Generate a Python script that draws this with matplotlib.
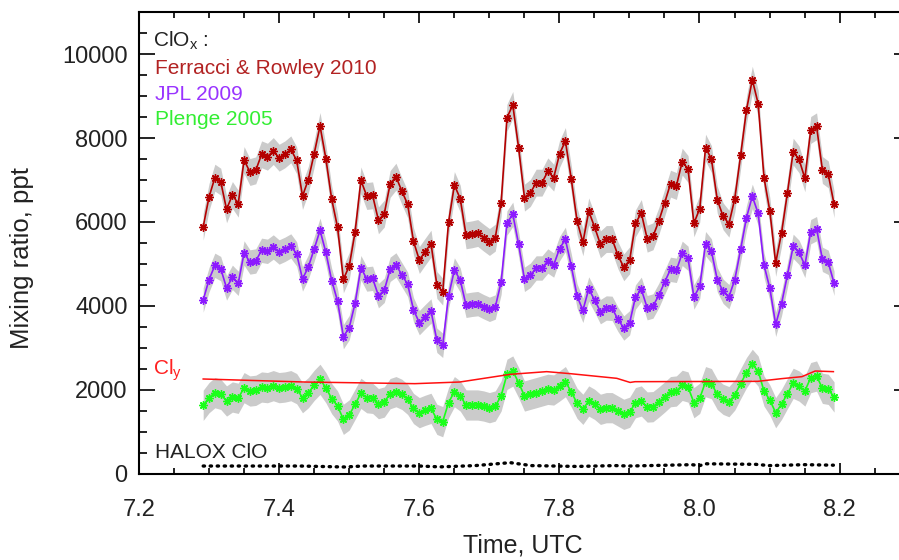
import numpy as np
import matplotlib
matplotlib.use("Agg")
import matplotlib.pyplot as plt
from matplotlib.ticker import MultipleLocator

plt.rcParams['font.family'] = ['Liberation Sans', 'DejaVu Sans']

# time base: one point every 30 s starting at 7.292 UTC
t0 = 7.292
dt = 1.0 / 120.0

ferracci = [5889, 6595, 7056, 6960, 6302, 6643, 6437, 7476, 7190, 7230,
            7611, 7555, 7690, 7531, 7611, 7730, 7468, 6619, 7008, 7627,
            8286, 7508, 6540, 5873, 4635, 4952, 5762, 6992, 6619, 6635,
            6040, 6199, 6905, 7079, 6738, 6421, 5540, 5095, 5294, 5484,
            4500, 4342, 5992, 6881, 6556, 5683, 5706, 5738, 5627, 5524,
            5627, 6453, 8484, 8786, 7762, 6580, 6690, 6937, 6937, 7206,
            7056, 7619, 7929, 7032, 6024, 5516, 6254, 5881, 5468, 5595,
            5595, 5206, 4921, 5087, 5968, 6214, 5603, 5659, 6024, 6461,
            6913, 6857, 7437, 7262, 5968, 6318, 7770, 7500, 6532, 6135,
            5960, 6556, 7587, 8667, 9389, 8818, 7056, 6262, 5024, 5738,
            6683, 7675, 7492, 7040, 8191, 8278, 7238, 7135, 6421]

jpl = [4143, 4627, 4969, 4890, 4429, 4683, 4540, 5262, 5048, 5072,
       5326, 5302, 5405, 5286, 5350, 5429, 5239, 4643, 4929, 5357,
       5802, 5278, 4604, 4119, 3270, 3485, 4064, 4912, 4643, 4659,
       4246, 4373, 4873, 4977, 4747, 4516, 3910, 3603, 3746, 3881,
       3183, 3064, 4238, 4857, 4619, 4016, 4040, 4056, 3984, 3921,
       3976, 4564, 5976, 6183, 5468, 4635, 4730, 4905, 4905, 5071,
       4976, 5365, 5587, 4960, 4238, 3897, 4405, 4143, 3865, 3952,
       3944, 3682, 3476, 3600, 4214, 4397, 3960, 4000, 4254, 4571,
       4873, 4849, 5254, 5135, 4214, 4468, 5484, 5310, 4627, 4350,
       4222, 4627, 5349, 6103, 6611, 6207, 4976, 4421, 3563, 4056,
       4730, 5421, 5278, 4968, 5770, 5841, 5111, 5040, 4540]

plenge = [1635, 1817, 1936, 1897, 1738, 1833, 1802, 2056, 1976, 1992,
          2071, 2056, 2103, 2056, 2071, 2103, 2032, 1817, 1936, 2111,
          2254, 2056, 1794, 1619, 1302, 1405, 1659, 1920, 1817, 1802,
          1675, 1714, 1913, 1960, 1897, 1778, 1560, 1460, 1516, 1563,
          1302, 1246, 1698, 1960, 1857, 1643, 1643, 1643, 1619, 1579,
          1619, 1857, 2373, 2452, 2175, 1857, 1897, 1936, 1976, 2016,
          2000, 2095, 2199, 1960, 1683, 1540, 1738, 1659, 1540, 1579,
          1579, 1500, 1421, 1470, 1698, 1738, 1595, 1603, 1714, 1833,
          1960, 1976, 2111, 2071, 1698, 1802, 2198, 2151, 1897, 1778,
          1722, 1881, 2151, 2413, 2611, 2452, 1976, 1762, 1460, 1659,
          1913, 2159, 2095, 1976, 2294, 2333, 2040, 2016, 1833]

err_ferracci = 320
err_jpl = 290
err_plenge = 360

cly_t = [7.292, 7.437, 7.594, 7.658, 7.730, 7.782, 7.815, 7.882, 7.901,
         7.908, 8.083, 8.117, 8.146, 8.165, 8.191]
cly = [2262, 2190, 2151, 2190, 2373, 2437, 2390, 2278, 2180,
       2198, 2206, 2270, 2317, 2452, 2437]

halox_t = [7.292, 7.430, 7.494, 7.520, 7.600, 7.630, 7.680, 7.730, 7.760,
           7.825, 7.880, 7.900, 7.989, 8.000, 8.010, 8.080, 8.100, 8.150, 8.191]
halox = [190, 190, 167, 190, 190, 170, 200, 270, 200,
         180, 200, 190, 222, 200, 243, 230, 200, 222, 210]

c_fer = '#b40000'
c_jpl = '#8c1aff'
c_ple = '#1aff1a'

fig = plt.figure(figsize=(8.99, 5.6), dpi=100)
ax = fig.add_axes([138.7 / 899, 86 / 560, (909.8 - 138.7) / 899, 462 / 560])

t = t0 + dt * np.arange(len(ferracci))
for vals, err, col in [(ferracci, err_ferracci, c_fer),
                       (jpl, err_jpl, c_jpl),
                       (plenge, err_plenge, c_ple)]:
    v = np.array(vals, dtype=float)
    ax.fill_between(t, v - err, v + err, color='#cbcbcb', lw=0)
for vals, col in [(ferracci, c_fer), (jpl, c_jpl), (plenge, c_ple)]:
    ax.plot(t, vals, color=col, lw=1.2, marker=(8, 2, 0), ms=6, mew=1.0)

ax.plot(cly_t, cly, color='#ff1010', lw=1.1)
ax.plot(halox_t, halox, color='black', lw=2.4, linestyle=(0, (0.4, 1.7)),
        dash_capstyle='round')

ax.set_xlim(7.2, 8.3)
ax.set_ylim(0, 11000)
ax.xaxis.set_minor_locator(MultipleLocator(0.05))
ax.yaxis.set_minor_locator(MultipleLocator(500))
ax.set_xticks([7.2, 7.4, 7.6, 7.8, 8.0, 8.2])
ax.set_xticklabels(['7.2', '7.4', '7.6', '7.8', '8.0', '8.2'])
ax.set_yticks([0, 2000, 4000, 6000, 8000, 10000])

ax.tick_params(axis='both', which='both', direction='in', top=True, right=True,
               width=1.4, labelsize=17, colors='#222222')
ax.tick_params(axis='x', which='major', length=8, pad=18)
ax.tick_params(axis='x', which='minor', length=4)
ax.tick_params(axis='y', which='major', length=11.5, pad=8)
ax.tick_params(axis='y', which='minor', length=5.5)
for s in ax.spines.values():
    s.set_linewidth(1.5)

fig.text(523 / 899, 1 - 545 / 560, 'Time, UTC', ha='center', va='center',
         fontsize=18, color='#222222')
fig.text(22 / 899, 1 - 258 / 560, 'Mixing ratio, ppt', ha='center', va='center',
         rotation=90, fontsize=18.5, color='#222222')


def px(x, y):
    return (x - 138.7) / (909.8 - 138.7), (474 - y) / 462


fs = 15
ax.text(*px(153, 46), 'ClO$_\\mathregular{x}$ :', transform=ax.transAxes,
        fontsize=fs, color='#222222')
ax.text(*px(155, 74), 'Ferracci & Rowley 2010', transform=ax.transAxes,
        fontsize=fs, color='#b22222')
ax.text(*px(155, 100), 'JPL 2009', transform=ax.transAxes,
        fontsize=fs, color='#9933ff')
ax.text(*px(155, 125), 'Plenge 2005', transform=ax.transAxes,
        fontsize=fs, color='#33ee33')
ax.text(*px(153, 374), 'Cl$_\\mathregular{y}$', transform=ax.transAxes,
        fontsize=fs, color='#ff2020')
ax.text(*px(155, 458), 'HALOX ClO', transform=ax.transAxes,
        fontsize=fs, color='#222222')

fig.savefig('out.png', dpi=100)
